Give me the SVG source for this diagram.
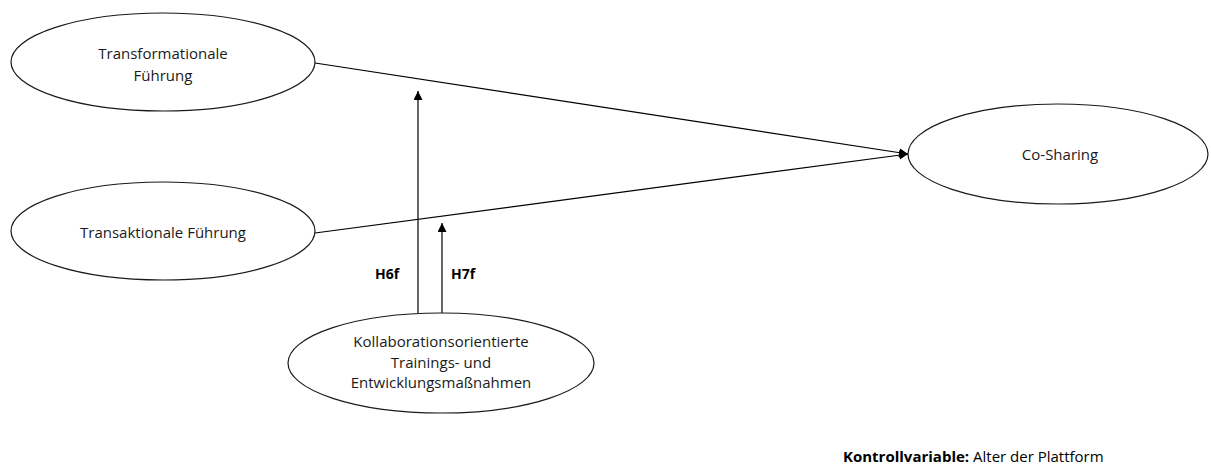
<svg xmlns="http://www.w3.org/2000/svg" width="1211" height="466" viewBox="0 0 1211 466">
  <defs>
    <marker id="arrow" viewBox="0 0 10 10" refX="10" refY="5" markerWidth="9" markerHeight="9" markerUnits="userSpaceOnUse" orient="auto">
      <path d="M0,0 L10,5 L0,10 z" fill="#000"/>
    </marker>
    <style>
      .node ellipse { fill: #fff; stroke: #1a1a1a; stroke-width: 1.2; }
      .lbl { font-family: "Open Sans", "Liberation Sans", sans-serif; font-size: 15px; fill: #1a1a1a; text-anchor: middle; }
      .hyp { font-family: "Open Sans", "Liberation Sans", sans-serif; font-size: 14px; font-weight: bold; fill: #000; }
      .conn { stroke: #000; stroke-width: 1.2; fill: none; }
    </style>
  </defs>
  <rect width="1211" height="466" fill="#fff"/>

  <g id="connectors">
    <line class="conn" x1="315" y1="63" x2="908" y2="154" marker-end="url(#arrow)"/>
    <line class="conn" x1="315" y1="233" x2="908" y2="154" marker-end="url(#arrow)"/>
    <line class="conn" x1="418" y1="313" x2="418" y2="91" marker-end="url(#arrow)"/>
    <line class="conn" x1="442" y1="313" x2="442" y2="223" marker-end="url(#arrow)"/>
    <text class="hyp" x="375" y="279">H6f</text>
    <text class="hyp" x="451" y="279">H7f</text>
  </g>

  <g id="node-transformational" class="node">
    <ellipse cx="163" cy="62" rx="152" ry="49"/>
    <text class="lbl" x="163" y="59">Transformationale</text>
    <text class="lbl" x="163" y="81">Führung</text>
  </g>

  <g id="node-transactional" class="node">
    <ellipse cx="163" cy="231" rx="152" ry="49"/>
    <text class="lbl" x="163" y="238">Transaktionale Führung</text>
  </g>

  <g id="node-cosharing" class="node">
    <ellipse cx="1058" cy="154" rx="150" ry="50"/>
    <text class="lbl" x="1060" y="160">Co-Sharing</text>
  </g>

  <g id="node-training" class="node">
    <ellipse cx="441" cy="363" rx="153" ry="50"/>
    <text class="lbl" x="441" y="347">Kollaborationsorientierte</text>
    <text class="lbl" x="441" y="368">Trainings- und</text>
    <text class="lbl" x="441" y="388">Entwicklungsmaßnahmen</text>
  </g>

  <g id="control-variable">
    <text x="843" y="462" font-family="Open Sans, Liberation Sans, sans-serif" font-size="15" fill="#000"><tspan font-weight="bold">Kontrollvariable:</tspan> Alter der Plattform</text>
  </g>
</svg>
